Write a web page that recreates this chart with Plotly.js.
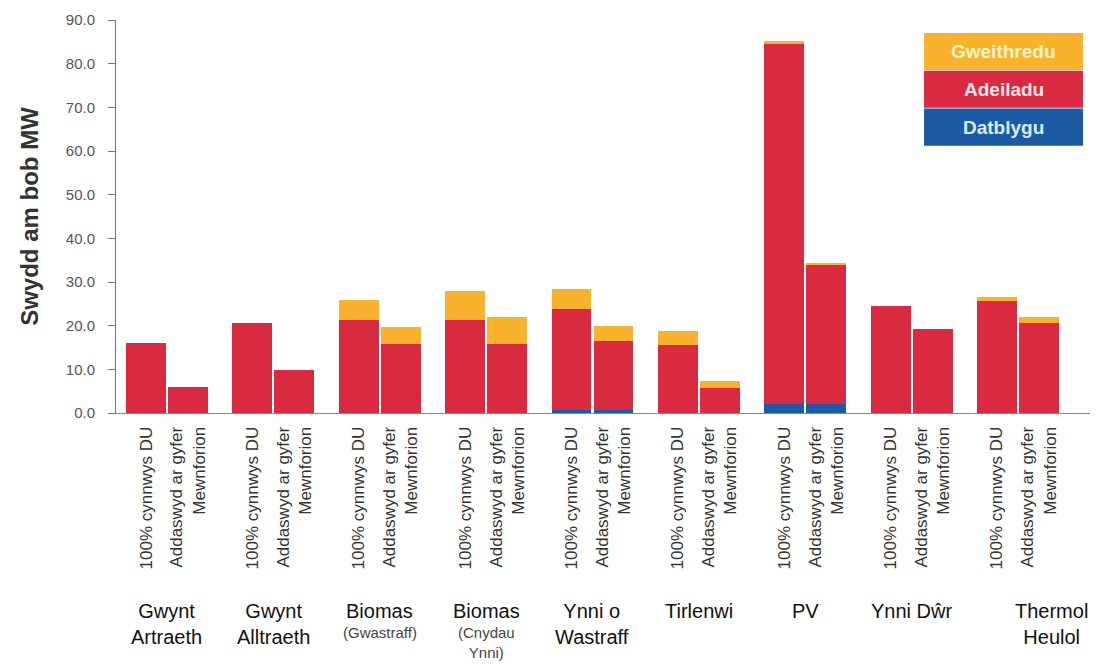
<!DOCTYPE html>
<html>
<head>
<meta charset="utf-8">
<script src="https://cdn.plot.ly/plotly-3.0.1.min.js"></script>
<style>html,body{margin:0;padding:0;background:#fff;}#chart{width:1102px;height:664px;}</style>
</head>
<body>
<div id="chart"></div>
<script>
// ---- data ----
const groupTitles = ['Gwynt<br>Artraeth', 'Gwynt<br>Alltraeth', 'Biomas', 'Biomas', 'Ynni o<br>Wastraff', 'Tirlenwi', 'PV', 'Ynni Dŵr', 'Thermol<br>Heulol'];
const groupNotes = ['', '', '(Gwastraff)', '(Cnydau<br>Ynni)', '', '', '', '', ''];
const variantLabels = ['100% cynnwys DU', 'Addaswyd ar gyfer<br>Mewnforion'];
const seriesNames = ['Datblygu', 'Adeiladu', 'Gweithredu'];
// values per group: [100% DU, imports]
const datblygu   = [[0, 0], [0, 0], [0, 0], [0, 0], [0.6, 0.6], [0, 0], [2.0, 2.0], [0, 0], [0, 0]];
const adeiladu   = [[16.0, 6.0], [20.6, 9.9], [21.2, 15.8], [21.2, 15.8], [23.2, 15.8], [15.6, 5.8], [82.4, 31.8], [24.4, 19.3], [25.6, 20.7]];
const gweithredu = [[0, 0], [0, 0], [4.6, 3.9], [6.7, 6.1], [4.7, 3.5], [3.2, 1.6], [0.7, 0.6], [0, 0], [0.9, 1.4]];
const yTicks = [0, 10, 20, 30, 40, 50, 60, 70, 80, 90];

// ---- build ----
const STEP = 2.533;
const colors = {Datblygu: '#1D5AA5', Adeiladu: '#DA2A40', Gweithredu: '#F8B22E'};
const xs = [], tickText = [];
groupTitles.forEach((g, gi) => {
  variantLabels.forEach((v, vi) => { xs.push(gi * STEP + vi); tickText.push(v); });
});
const flat = arr => arr.reduce((a, p) => a.concat(p), []);
const seriesData = {Datblygu: flat(datblygu), Adeiladu: flat(adeiladu), Gweithredu: flat(gweithredu)};

const traces = seriesNames.map(n => ({
  type: 'bar', name: n, x: xs, y: seriesData[n], width: 0.95,
  marker: {color: colors[n], line: {width: 0}}, showlegend: false, hoverinfo: 'y+name'
}));

const FONT = '"Liberation Sans", Arial, sans-serif';
const annotations = [];
groupTitles.forEach((g, gi) => {
  const cx = gi * STEP + 0.5;
  const last = gi === groupTitles.length - 1;
  annotations.push({xref: 'x', yref: 'paper', x: cx, y: -0.47, yanchor: 'top', xanchor: 'center',
    text: g, showarrow: false, xshift: last ? 34 : 0, align: 'center',
    font: {family: FONT, size: 20, color: '#111'}});
  if (groupNotes[gi]) {
    annotations.push({xref: 'x', yref: 'paper', x: cx, y: -0.533, yanchor: 'top', xanchor: 'center',
      text: groupNotes[gi], showarrow: false, align: 'center',
      font: {family: FONT, size: 15, color: '#444'}});
  }
});

// legend built as stacked boxes
const legendItems = [
  {name: 'Gweithredu', y0: 0.873, y1: 0.967, tc: '#FFF4C8'},
  {name: 'Adeiladu', y0: 0.777, y1: 0.871, tc: '#FFE4EA'},
  {name: 'Datblygu', y0: 0.68, y1: 0.775, tc: '#D6EEFF'}
];
const shapes = [];
legendItems.forEach(it => {
  shapes.push({type: 'rect', xref: 'paper', yref: 'paper', x0: 0.8296, x1: 0.9928, y0: it.y0, y1: it.y1,
    fillcolor: colors[it.name], line: {width: 0}});
  annotations.push({xref: 'paper', yref: 'paper', x: (0.8296 + 0.9928) / 2, y: (it.y0 + it.y1) / 2,
    text: '<b>' + it.name + '</b>', showarrow: false, xanchor: 'center', yanchor: 'middle',
    font: {family: FONT, size: 19, color: it.tc}});
});

const layout = {
  width: 1102, height: 664,
  margin: {l: 116, r: 12, t: 20, b: 251},
  paper_bgcolor: '#fff', plot_bgcolor: '#fff',
  barmode: 'stack', bargap: 0,
  font: {family: FONT},
  xaxis: {
    range: [-0.714, 22.48], tickmode: 'array', tickvals: xs, ticktext: tickText,
    tickangle: -90, ticks: '', showgrid: false, zeroline: false,
    showline: true, linecolor: '#888', linewidth: 1,
    tickfont: {family: FONT, size: 17, color: '#333'}, ticklabelstandoff: 6
  },
  yaxis: {
    range: [0, 90], tickmode: 'array', tickvals: yTicks, tickformat: '.1f',
    ticks: 'outside', ticklen: 7, tickcolor: '#777', showgrid: false, zeroline: false,
    showline: true, linecolor: '#777', linewidth: 1, ticklabelstandoff: 10,
    tickfont: {family: FONT, size: 15, color: '#555'},
    title: {text: '<b>Swydd am bob MW</b>', font: {family: FONT, size: 24, color: '#333'}, standoff: 20}
  },
  shapes: shapes,
  annotations: annotations
};

Plotly.newPlot('chart', traces, layout, {displayModeBar: false, staticPlot: true});
</script>
</body>
</html>
